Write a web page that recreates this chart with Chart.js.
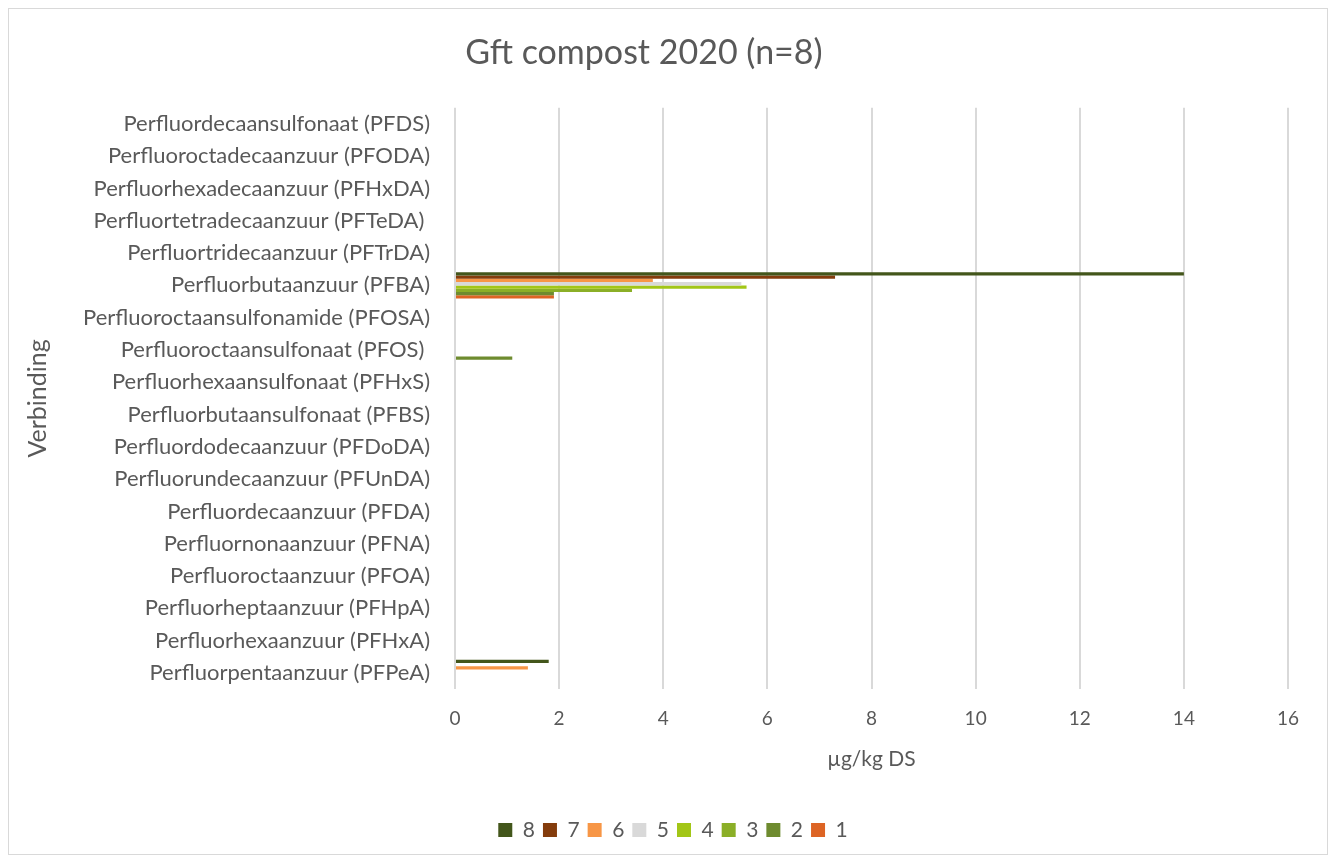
<!DOCTYPE html>
<html>
<head>
<meta charset="utf-8">
<script src="https://cdn.jsdelivr.net/npm/chart.js@4/dist/chart.umd.min.js"></script>
<style>
html,body{margin:0;padding:0;background:#fff;}
#wrap{position:absolute;left:0;top:0;width:1336px;height:863px;}
</style>
</head>
<body>
<div id="wrap"><canvas id="c" width="1336" height="863"></canvas></div>
<script>
const categories = [
  "Perfluordecaansulfonaat (PFDS)",
  "Perfluoroctadecaanzuur (PFODA)",
  "Perfluorhexadecaanzuur (PFHxDA)",
  "Perfluortetradecaanzuur (PFTeDA) ",
  "Perfluortridecaanzuur (PFTrDA)",
  "Perfluorbutaanzuur (PFBA)",
  "Perfluoroctaansulfonamide (PFOSA)",
  "Perfluoroctaansulfonaat (PFOS) ",
  "Perfluorhexaansulfonaat (PFHxS)",
  "Perfluorbutaansulfonaat (PFBS)",
  "Perfluordodecaanzuur (PFDoDA)",
  "Perfluorundecaanzuur (PFUnDA)",
  "Perfluordecaanzuur (PFDA)",
  "Perfluornonaanzuur (PFNA)",
  "Perfluoroctaanzuur (PFOA)",
  "Perfluorheptaanzuur (PFHpA)",
  "Perfluorhexaanzuur (PFHxA)",
  "Perfluorpentaanzuur (PFPeA)"
];
const seriesNames = ["8", "7", "6", "5", "4", "3", "2", "1"];
const s8 = [null,null,null,null,null,14.0,null,null,null,null,null,null,null,null,null,null,null,1.8];
const s7 = [null,null,null,null,null,7.3,null,null,null,null,null,null,null,null,null,null,null,null];
const s6 = [null,null,null,null,null,3.8,null,null,null,null,null,null,null,null,null,null,null,1.4];
const s5 = [null,null,null,null,null,5.5,null,null,null,null,null,null,null,null,null,null,null,null];
const s4 = [null,null,null,null,null,5.6,null,null,null,null,null,null,null,null,null,null,null,null];
const s3 = [null,null,null,null,null,3.4,null,null,null,null,null,null,null,null,null,null,null,null];
const s2 = [null,null,null,null,null,1.9,null,1.1,null,null,null,null,null,null,null,null,null,null];
const s1 = [null,null,null,null,null,1.9,null,null,null,null,null,null,null,null,null,null,null,null];
const seriesValues = [s8, s7, s6, s5, s4, s3, s2, s1];
const seriesColors = ["#43561B", "#843C0C", "#F79646", "#D9D9D9", "#A2C617", "#8BAF27", "#6E8B2F", "#DD6424"];
const xTicks = [0, 2, 4, 6, 8, 10, 12, 14, 16];

const FONT = "Lato, 'Open Sans', sans-serif";
const TXT = "#595959";

const borderPlugin = {
  id: 'outerBorder',
  afterLayout(chart) {
    if (chart.legend) { chart.legend.left += 58; }
  },
  beforeDraw(chart) {
    const ctx = chart.ctx;
    ctx.save();
    ctx.fillStyle = '#fff';
    ctx.fillRect(0, 0, chart.width, chart.height);
    ctx.strokeStyle = '#D9D9D9';
    ctx.lineWidth = 1;
    ctx.strokeRect(8.5, 8.5, 1319, 846);
    ctx.restore();
  }
};

new Chart(document.getElementById('c'), {
  type: 'bar',
  data: {
    labels: categories,
    datasets: seriesNames.map((n, i) => ({
      label: n,
      data: seriesValues[i],
      backgroundColor: seriesColors[i],
      borderWidth: 0,
      categoryPercentage: 0.81,
      barPercentage: 1.0
    }))
  },
  plugins: [borderPlugin],
  options: {
    indexAxis: 'y',
    responsive: false,
    animation: false,
    devicePixelRatio: 1,
    layout: { padding: { left: 0, right: 48, top: 0, bottom: 12.5 } },
    plugins: {
      tooltip: { enabled: false },
      title: {
        display: true,
        text: 'Gft compost 2020 (n=8)',
        color: TXT,
        font: { family: FONT, size: 34, weight: 'normal', lineHeight: 1.2 },
        padding: { top: 33, bottom: 34 }
      },
      legend: {
        position: 'bottom',
        labels: {
          color: TXT,
          font: { family: FONT, size: 21 },
          boxWidth: 14,
          boxHeight: 14,
          padding: 8
        }
      }
    },
    scales: {
      x: {
        min: 0,
        max: 16,
        afterBuildTicks(axis) { axis.ticks = xTicks.map(v => ({ value: v })); },
        afterFit(axis) { axis.height = 122.5; },
        ticks: { color: TXT, font: { family: FONT, size: 19 }, padding: 18 },
        grid: { color: '#D9D9D9', lineWidth: 2, drawTicks: false },
        border: { display: false },
        title: {
          display: true,
          text: 'µg/kg DS',
          color: TXT,
          font: { family: FONT, size: 21, lineHeight: 1.2 },
          padding: { top: 0, bottom: 39.5 }
        }
      },
      y: {
        afterFit(axis) { axis.width = 455; },
        ticks: { color: TXT, font: { family: FONT, size: 22 }, padding: 25, autoSkip: false },
        grid: { display: false, drawTicks: false },
        border: { display: false },
        title: {
          display: true,
          text: 'Verbinding',
          color: TXT,
          font: { family: FONT, size: 25, lineHeight: 1.2 },
          padding: { top: 23, bottom: 0 }
        }
      }
    }
  }
});
</script>
</body>
</html>
